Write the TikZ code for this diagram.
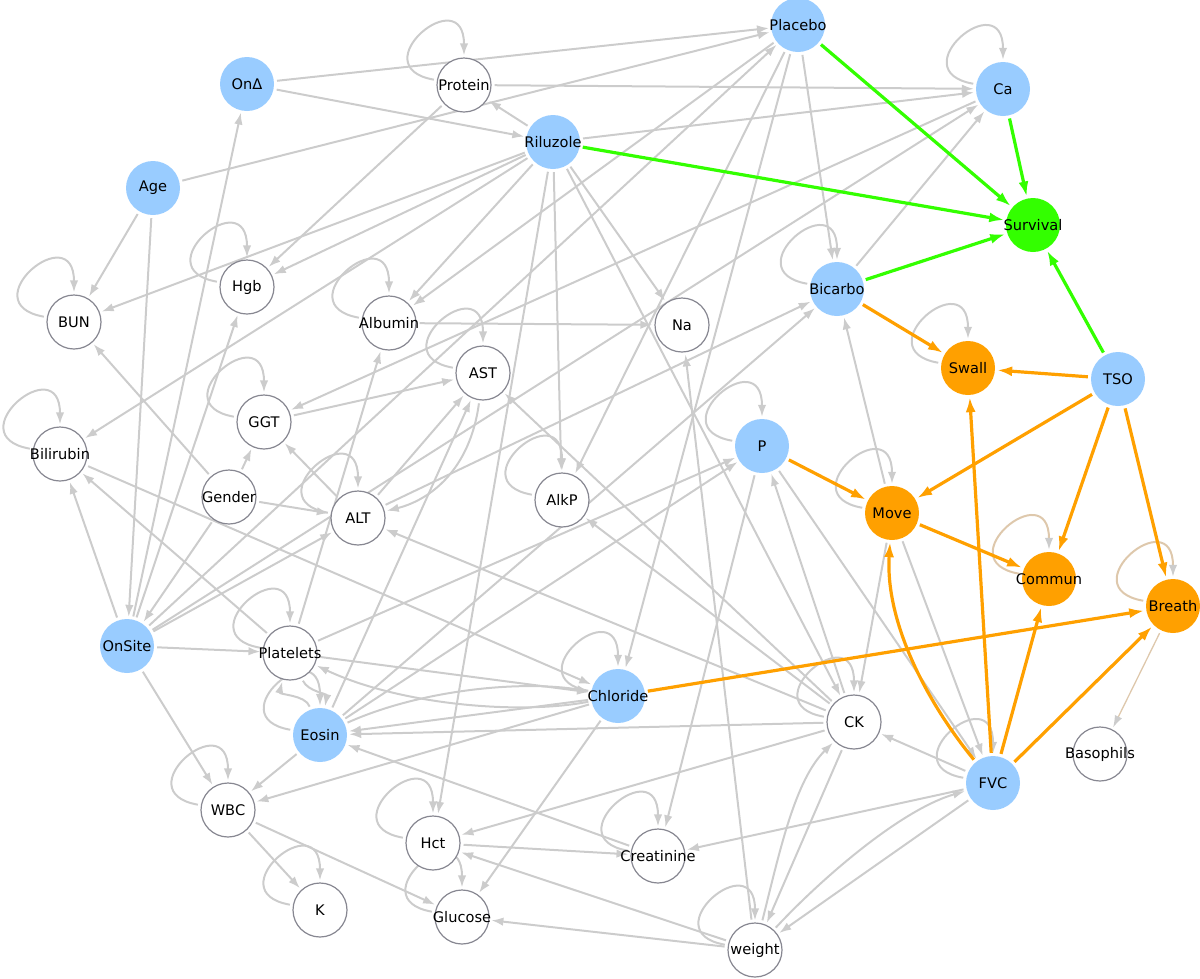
\documentclass[tikz,border=0pt]{standalone}
\usepackage{fontspec}
\setmainfont{DejaVu Sans}
\usetikzlibrary{arrows.meta}
\definecolor{nblue}{RGB}{153,204,255}
\definecolor{norange}{RGB}{255,160,0}
\definecolor{ngreen}{RGB}{51,255,0}
\definecolor{egray}{RGB}{204,204,204}
\definecolor{nborder}{RGB}{135,135,145}
\definecolor{etan}{RGB}{222,200,172}
\newcommand\nt[1]{\makebox[0pt][c]{#1}}
\pgfdeclarelayer{bg}
\pgfsetlayers{bg,main}
\tikzset{
  base/.style={circle, minimum size=54pt, inner sep=0pt, font=\fontsize{14.6}{16}\selectfont},
  bnode/.style={base, fill=nblue},
  wnode/.style={base, fill=white, draw=nborder, line width=1.2pt},
  onode/.style={base, fill=norange},
  gnode/.style={base, fill=ngreen},
  ge/.style={draw=egray, line width=2pt, -{Latex[length=12pt,width=8.5pt]}, shorten >=2pt, shorten <=3pt},
  oe/.style={draw=norange, line width=3.2pt, -{Latex[length=15pt,width=10pt]}, shorten >=2pt, shorten <=3pt},
  gre/.style={draw=ngreen, line width=3.2pt, -{Latex[length=15pt,width=10pt]}, shorten >=2pt, shorten <=3pt},
  te/.style={draw=etan, line width=2pt, -{Latex[length=12pt,width=8.5pt,color=egray]}, shorten >=2pt, shorten <=3pt},
  tthin/.style={draw=etan, line width=1.3pt, -{Latex[length=12pt,width=8pt,color=egray]}, shorten >=2pt, shorten <=3pt},
  sloop/.style={out=170, in=90, distance=78pt}
}
\begin{document}
\begin{tikzpicture}[x=1pt,y=-1pt]
\useasboundingbox (0,0) rectangle (1200,978);
% nodes
\node[bnode] (Placebo) at (798,25) {\nt{Placebo}};
\node[bnode] (OnD) at (247,84) {\nt{OnΔ}};
\node[wnode] (Protein) at (464,85) {\nt{Protein}};
\node[bnode] (Ca) at (1003,89) {\nt{Ca}};
\node[bnode] (Riluzole) at (553,142) {\nt{Riluzole}};
\node[bnode] (Age) at (153,188) {\nt{Age}};
\node[gnode] (Survival) at (1033,225) {\nt{Survival}};
\node[wnode] (Hgb) at (247,287) {\nt{Hgb}};
\node[wnode] (BUN) at (74,322) {\nt{BUN}};
\node[wnode] (Albumin) at (389,323) {\nt{Albumin}};
\node[wnode] (Na) at (682,325) {\nt{Na}};
\node[bnode] (Bicarbo) at (837,289) {\nt{Bicarbo}};
\node[onode] (Swall) at (968,368) {\nt{Swall}};
\node[bnode] (TSO) at (1118,379) {\nt{TSO}};
\node[wnode] (AST) at (483,373) {\nt{AST}};
\node[wnode] (GGT) at (264,422) {\nt{GGT}};
\node[wnode] (Bilirubin) at (60,454) {\nt{Bilirubin}};
\node[bnode] (P) at (762,446) {\nt{P}};
\node[wnode] (Gender) at (229,497) {\nt{Gender}};
\node[wnode] (ALT) at (358,518) {\nt{ALT}};
\node[wnode] (AlkP) at (562,500) {\nt{AlkP}};
\node[onode] (Move) at (892,513) {\nt{Move}};
\node[onode] (Commun) at (1049,579) {\nt{Commun}};
\node[onode] (Breath) at (1173,606) {\nt{Breath}};
\node[bnode] (OnSite) at (127,646) {\nt{OnSite}};
\node[wnode] (Platelets) at (290,653) {\nt{Platelets}};
\node[bnode] (Chloride) at (618,696) {\nt{Chloride}};
\node[bnode] (Eosin) at (320,735) {\nt{Eosin}};
\node[wnode] (CK) at (854,722) {\nt{CK}};
\node[wnode] (Basophils) at (1100,754) {\nt{Basophils}};
\node[bnode] (FVC) at (993,783) {\nt{FVC}};
\node[wnode] (WBC) at (228,810) {\nt{WBC}};
\node[wnode] (Hct) at (433,843) {\nt{Hct}};
\node[wnode] (Creatinine) at (658,856) {\nt{Creatinine}};
\node[wnode] (K) at (320,910) {\nt{K}};
\node[wnode] (Glucose) at (462,917) {\nt{Glucose}};
\node[wnode] (weight) at (755,950) {\nt{weight}};

\begin{pgfonlayer}{bg}
% self loops
\foreach \n in {Protein,Ca,Hgb,BUN,Albumin,Bicarbo,AST,GGT,Bilirubin,P,ALT,AlkP,Move,Swall,Platelets,Chloride,CK,FVC,WBC,Hct,Creatinine,K,Glucose,weight,Eosin}
  \draw[ge] (\n) to[sloop] (\n);
\foreach \n in {Commun,Breath}
  \draw[te] (\n) to[sloop] (\n);
% gray straight edges
\foreach \a/\b in {OnD/Placebo,OnD/Riluzole,Age/Placebo,Age/BUN,Age/OnSite,
  Protein/Hgb,Protein/Ca,Riluzole/Protein,Riluzole/Ca,Riluzole/BUN,Riluzole/Hgb,
  Riluzole/Bilirubin,Riluzole/Albumin,Riluzole/Na,Riluzole/AlkP,Riluzole/Hct,Riluzole/CK,
  Placebo/Bicarbo,Placebo/Albumin,Placebo/AlkP,Placebo/Chloride,
  OnSite/Placebo,OnSite/OnD,OnSite/Hgb,OnSite/Ca,OnSite/ALT,OnSite/Bilirubin,OnSite/Platelets,OnSite/WBC,
  Gender/BUN,Gender/GGT,Gender/OnSite,Gender/ALT,
  ALT/GGT,ALT/AST,ALT/Bicarbo,GGT/AST,Ca/GGT,
  Albumin/Na,weight/Na,
  Eosin/AST,Eosin/P,Eosin/Bicarbo,Eosin/WBC,
  Platelets/Albumin,Platelets/Bilirubin,Platelets/Chloride,Platelets/P,
  Bilirubin/Chloride,
  Chloride/Eosin,Chloride/WBC,Chloride/Glucose,
  CK/Eosin,CK/AST,CK/ALT,CK/AlkP,CK/P,CK/Hct,CK/weight,
  Move/Bicarbo,Move/CK,Move/FVC,Bicarbo/Ca,
  P/Creatinine,P/FVC,
  FVC/CK,FVC/Creatinine,FVC/weight,
  WBC/K,WBC/Glucose,Hct/Creatinine,Creatinine/Eosin,
  weight/Glucose,weight/Hct}
  \draw[ge] (\a) -- (\b);
% gray curved edges
\draw[ge] (AST) .. controls (470,470) and (430,500) .. (ALT);
\draw[ge] (weight) .. controls (780,850) and (795,780) .. (CK);
\draw[ge] (weight) .. controls (820,880) and (900,810) .. (FVC);
\draw[ge] (Chloride) .. controls (520,715) and (400,705) .. (Platelets);
\draw[ge] (Eosin) .. controls (420,690) and (520,680) .. (Chloride);
\draw[ge] (Eosin) to[out=110,in=255] (Platelets);
\draw[ge] (Platelets) to[out=295,in=80] (Eosin);
% tan
\draw[tthin] (Breath) -- (Basophils);
% orange edges
\foreach \a/\b in {Bicarbo/Swall,TSO/Swall,TSO/Move,TSO/Commun,TSO/Breath,P/Move,Move/Commun,
  FVC/Swall,FVC/Commun,FVC/Breath,Chloride/Breath}
  \draw[oe] (\a) -- (\b);
\draw[oe] (FVC) .. controls (925,700) and (885,620) .. (Move);
% green edges
\foreach \a in {Placebo,Ca,Riluzole,Bicarbo,TSO}
  \draw[gre] (\a) -- (Survival);
\end{pgfonlayer}
\end{tikzpicture}
\end{document}
